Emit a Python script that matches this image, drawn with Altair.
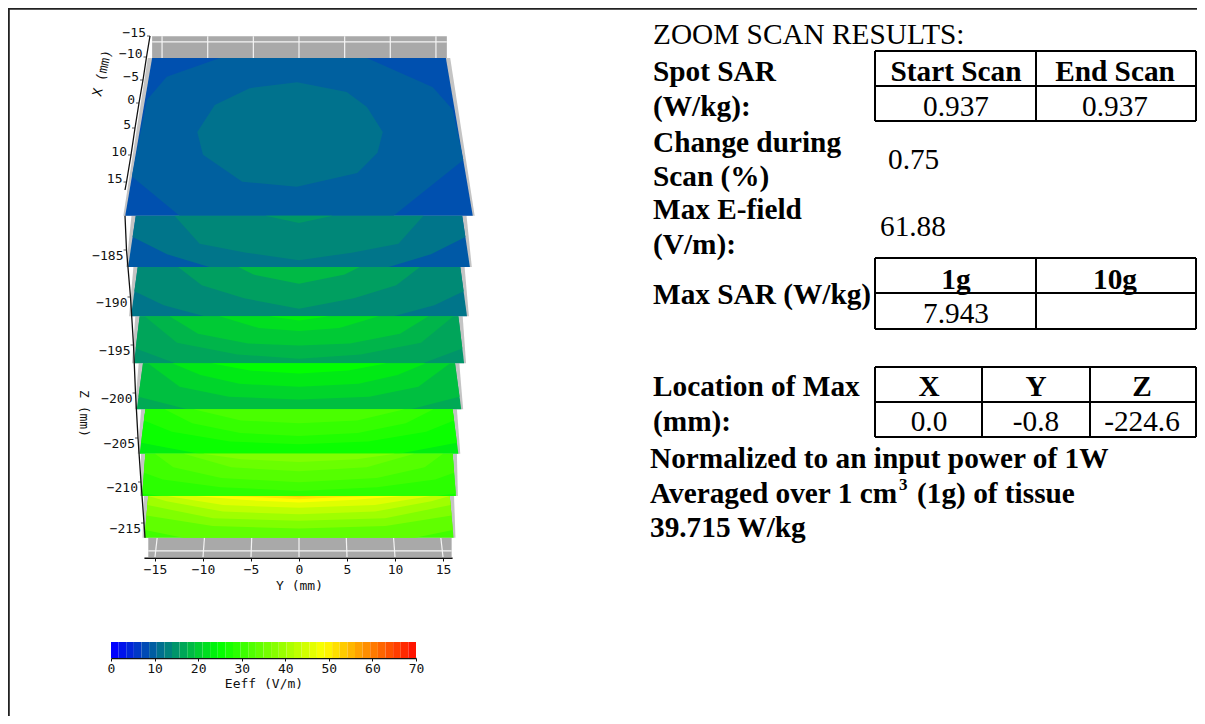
import altair as alt
import pandas as pd

# ---------- values ----------
Y_TICKS = [-15, -10, -5, 0, 5, 10, 15]
X_TICKS = [-15, -10, -5, 0, 5, 10, 15]
Z_TICKS = [-215, -210, -205, -200, -195, -190, -185]
E_TICKS = [0, 10, 20, 30, 40, 50, 60, 70]
E_LEVELS = [0, 1.75, 3.5, 5.25, 7, 8.75, 10.5, 12.25, 14, 15.75, 17.5, 19.25, 21, 22.75, 24.5, 26.25, 28, 29.75,
            31.5, 33.25, 35, 36.75, 38.5, 40.25, 42, 43.75, 45.5, 47.25, 49, 50.75, 52.5, 54.25, 56, 57.75, 59.5,
            61.25, 63, 64.75, 66.5, 68.25]

# eight measured planes: screen Z of back and front edge, half-width (mm on screen) of back and front edge
PLANE_Z = [(-164.8, -181.4), (-181.4, -186.8), (-186.8, -192.0), (-192.0, -196.9),
           (-196.9, -201.8), (-201.8, -206.8), (-206.8, -211.7), (-211.7, -216.8)]
PLANE_HW = [(15.3, 18.1), (17.0, 17.8), (16.8, 17.5), (16.6, 17.2),
            (16.25, 16.9), (16.0, 16.6), (16.0, 16.35), (15.7, 16.1)]
PLANE_BASE = [7.5, 8.4, 11.0, 14.0, 16.0, 22.5, 26.0, 30.0]

# top plane contours (closed outlines in plane coordinates)
TOP_BANDS = [
    (9.0, [(-8.6, -16), (7.4, -16), (14.1, -10.1), (15.8, -5.5), (16, 4.7), (8.7, 16), (-11, 16), (-16, 8),
           (-15.8, -7.5), (-14.1, -12.2)]),
    (10.7, [(-0.2, -11.1), (-5.2, -9.9), (-8.7, -6.5), (-10.2, -1), (-9.4, 3.6), (-5.4, 9.1), (-0.2, 10.1),
            (5.6, 7.3), (7.7, 3.2), (8.4, -1), (7, -6.1), (5, -9.1)]),
]
# lower planes: symmetric contours, half outline from centre outwards
ARCHES = {
    1: [(11.0, [(0, 16), (8.4, 16), (12.5, 8), (16, -2.8), (16, -16)]),
        (12.7, [(0, 11.8), (5, 7), (9.5, 1.5), (12.2, -16)]),
        (14.5, [(0, -11.5), (3.3, -16)])],
    2: [(13.0, [(0, 16), (9, 16), (13, 9), (16, 0), (16, -16)]),
        (15.0, [(0, 11.2), (5.3, 4.5), (9.5, -4), (12, -16)]),
        (17.5, [(0, -5), (4.5, -11), (6, -16)])],
    3: [(15.5, [(0, 16), (12, 16), (16, 6), (16, -16)]),
        (17.0, [(0, 13), (6, 10), (12, 2), (15.5, -16)]),
        (19.0, [(0, 4), (5, 2.5), (10, -4), (13, -16)]),
        (21.0, [(0, -6), (4, -8), (8, -16)]),
        (23.0, [(0, -13), (3, -16)])],
    4: [(18.0, [(0, 16), (11, 16), (16, 7), (16, -16)]),
        (20.0, [(0, 9), (7, 7), (12, 0), (15.5, -16)]),
        (22.0, [(0, 0), (6, -2), (10, -8), (13, -16)]),
        (24.0, [(0, -9), (5, -11), (9, -16)])],
    5: [(25.0, [(0, 16), (10, 16), (16, 8), (16, -16)]),
        (27.0, [(0, 9), (7, 7), (13, 0), (16, -8), (16, -16)]),
        (29.0, [(0, 3), (6, 1), (11, -6), (14, -16)]),
        (31.0, [(0, -6), (6, -8), (11, -16)])],
    6: [(28.0, [(0, 16), (14, 16), (16, 14), (16, -16)]),
        (30.0, [(0, 12), (8, 9), (14, 3), (16, -2), (16, -16)]),
        (32.0, [(0, 5), (8, 2), (13, -6), (15, -16)]),
        (34.0, [(0, -3), (7, -6), (12, -16)]),
        (36.0, [(0, -10), (6, -12), (10, -16)])],
    7: [(33.0, [(0, 16), (12, 16), (16, 10), (16, -16)]),
        (36.0, [(0, 9), (9, 7), (16, -1), (16, -16)]),
        (39.0, [(0, 3), (9, 1), (16, -9), (16, -16)]),
        (42.0, [(0, -2), (8, -4), (14, -12), (16, -16)]),
        (45.0, [(0, -7), (8, -9), (14, -16)]),
        (48.0, [(0, -11), (6, -13), (11, -16)]),
        (50.0, [(0, -13.5), (4, -15), (8, -16)]),
        (52.0, [(0, -15), (2, -16)])],
}

# ---------- layout (page pixels of the reference) ----------
OX, OY = 8, 8
W, H = 1189, 708
MONO = "DejaVu Sans Mono"
SERIF = "Liberation Serif"
TEXT_SIZE = 29.3
INK = "#111111"

def px_scale_x():
    return alt.Scale(domain=[OX, OX + W], range=[0, W], nice=False, zero=False)

def px_scale_y():
    return alt.Scale(domain=[OY, OY + H], range=[0, H], nice=False, zero=False)

def scene_x():
    # 9.6 px per mm, Y = 0 at page x = 299
    return alt.Scale(domain=[(OX - 299) / 9.6, (OX + W - 299) / 9.6], range=[0, W], nice=False, zero=False)

Z_DOMAIN = [-230, -215, -210, -205, -200, -195, -190, -185, -150]
Z_PAGE = [646, 523, 482, 438, 393, 345, 297, 250, -82.5]

def scene_y():
    return alt.Scale(domain=Z_DOMAIN, range=[p - OY for p in Z_PAGE], nice=False, zero=False)

E_SCALE = alt.Scale(domain=[0, 24, 48, 70], range=["#0000ff", "#00ff00", "#ffff00", "#ff0000"],
                    interpolate="rgb", nice=False, zero=False)

def project(u, v, plane):
    f = (v + 16) / 32
    zb, zf = PLANE_Z[plane]
    hb, hf = PLANE_HW[plane]
    return u / 16 * (hb + (hf - hb) * f), zb + (zf - zb) * f

polys = []
def add_poly(plane, e, pts):
    pid = len(polys)
    polys.append(pd.DataFrame([{"poly": pid, "i": i, "E": e, "x": project(u, v, plane)[0], "z": project(u, v, plane)[1]}
                               for i, (u, v) in enumerate(pts)]))

CORNERS = [(-16, -16), (16, -16), (16, 16), (-16, 16)]
for p in range(8):
    add_poly(p, PLANE_BASE[p], CORNERS)
    if p == 0:
        for e, pts in TOP_BANDS:
            add_poly(p, e, pts)
    else:
        for e, half in ARCHES[p]:
            right = list(half)
            left = [(-u, v) for u, v in reversed(half) if u != 0]
            add_poly(p, e, right + left)
plane_df = pd.concat(polys, ignore_index=True)

back = []
for p in range(8):
    zb, zf = PLANE_Z[p]
    hb, hf = PLANE_HW[p]
    for i, (x, z) in enumerate([(-hb - 0.45, zb), (hb + 0.45, zb), (hf + 0.2, zf), (-hf - 0.2, zf)]):
        back.append({"poly": p, "i": i, "x": x, "z": z})
back_df = pd.DataFrame(back)

scene_enc = dict(x=alt.X("x:Q", scale=scene_x(), axis=None), y=alt.Y("z:Q", scale=scene_y(), axis=None))

backing = alt.Chart(back_df).mark_line(fill="#c4c4c4", strokeWidth=0).encode(detail="poly:N", order="i:Q", **scene_enc)
planes = alt.Chart(plane_df).mark_line(strokeWidth=0).encode(
    detail="poly:N", order="i:Q", fill=alt.Fill("E:Q", scale=E_SCALE, legend=None), **scene_enc)

# grey end walls and their white grid
walls = alt.Chart(pd.DataFrame([
    {"x": -15.3, "x2": 15.4, "z": -162.5, "z2": -164.9},
    {"x": -15.7, "x2": 15.9, "z": -216.8, "z2": -219.15},
])).mark_rect(color="#a9a9a9").encode(
    x=alt.X("x:Q", scale=scene_x(), axis=None), x2="x2:Q",
    y=alt.Y("z:Q", scale=scene_y(), axis=None), y2="z2:Q")

grid_rows = []
for t in Y_TICKS:
    grid_rows.append({"x": t * 0.951, "x2": t * 0.951, "z": -162.5, "z2": -164.8})
    grid_rows.append({"x": t * 0.985, "x2": t * 1.0, "z": -216.8, "z2": -219.15})
grid_rows.append({"x": -15.3, "x2": 15.4, "z": -163.1, "z2": -163.1})
grid_rows.append({"x": -15.7, "x2": 15.9, "z": -218.4, "z2": -218.4})
grid = alt.Chart(pd.DataFrame(grid_rows)).mark_rule(color="#f4f4f4", strokeWidth=1.2).encode(
    x=alt.X("x:Q", scale=scene_x(), axis=None), x2="x2:Q",
    y=alt.Y("z:Q", scale=scene_y(), axis=None), y2="z2:Q")

# bottom Y axis (a real axis on the scene scale)
y_axis = alt.Chart(pd.DataFrame({"x": Y_TICKS})).mark_tick(opacity=0).encode(
    x=alt.X("x:Q", scale=scene_x(), axis=alt.Axis(
        values=Y_TICKS, title="Y (mm)", grid=False, domain=False, orient="bottom", offset=558 - OY - H,
        tickColor=INK, tickSize=3, labelFont=MONO, labelFontSize=13, labelColor=INK,
        labelPadding=2, titleFont=MONO, titleFontSize=13, titleFontWeight="normal", titleColor=INK,
        titleX=299 - OX, titleY=21, labelFlush=False, labelOverlap=False)))
y_line = alt.Chart(pd.DataFrame({"x": [-16.1], "x2": [16.0], "z": [-219.3]})).mark_rule(color=INK, strokeWidth=1.5).encode(
    x=alt.X("x:Q", scale=scene_x(), axis=None), x2="x2:Q", y=alt.Y("z:Q", scale=scene_y(), axis=None))

# slanted X axis
X_AX_DOMAIN = [-15, -10, -5, 0, 5, 10, 15, 16.5]
X_AX_PX = [150, 146.5, 143, 139, 135, 131, 126.5, 125]
X_AX_PY = [36, 57, 80, 103, 128, 155, 182, 190]
def xax_enc():
    return dict(
        x=alt.X("t:Q", scale=alt.Scale(domain=X_AX_DOMAIN, range=[p - OX for p in X_AX_PX], nice=False, zero=False), axis=None),
        y=alt.Y("t:Q", scale=alt.Scale(domain=X_AX_DOMAIN, range=[p - OY for p in X_AX_PY], nice=False, zero=False), axis=None))
xax_df = pd.DataFrame({"t": X_TICKS, "label": [str(v).replace("-", "\u2212") for v in X_TICKS]})
xax_line = alt.Chart(pd.DataFrame({"t": X_AX_DOMAIN})).mark_line(color=INK, strokeWidth=1.3).encode(**xax_enc())
xax_tick = alt.Chart(xax_df).mark_tick(color=INK, orient="horizontal", size=3, thickness=1, xOffset=-1.5).encode(**xax_enc())
xax_text = alt.Chart(xax_df).mark_text(font=MONO, fontSize=13, color=INK, align="right", baseline="middle", dx=-4, dy=-3).encode(
    text="label:N", **xax_enc())

# slanted Z axis
Z_AX_DOMAIN = [-216.8, -215, -210, -205, -200, -195, -190, -185, -181.4]
Z_AX_PX = [145, 144, 141, 138, 135.5, 133.5, 130.5, 126.5, 125]
def zax_enc():
    return dict(
        x=alt.X("t:Q", scale=alt.Scale(domain=Z_AX_DOMAIN, range=[p - OX for p in Z_AX_PX], nice=False, zero=False), axis=None),
        y=alt.Y("t:Q", scale=scene_y(), axis=None))
zax_df = pd.DataFrame({"t": Z_TICKS, "label": [str(v).replace("-", "\u2212") for v in Z_TICKS]})
zax_line = alt.Chart(pd.DataFrame({"t": Z_AX_DOMAIN})).mark_line(color=INK, strokeWidth=1.3).encode(**zax_enc())
zax_tick = alt.Chart(zax_df).mark_tick(color=INK, orient="horizontal", size=3, thickness=1, xOffset=-1.5).encode(**zax_enc())
zax_text = alt.Chart(zax_df).mark_text(font=MONO, fontSize=13, color=INK, align="right", baseline="middle", dx=-3, dy=6).encode(
    text="label:N", **zax_enc())

# colour bar
E_NEXT = E_LEVELS[1:] + [70]
bar_scale = lambda: alt.Scale(domain=[0, 70], range=[111 - OX, 416 - OX], nice=False, zero=False)
bar = alt.Chart(pd.DataFrame({"E": E_LEVELS, "E2": E_NEXT})).mark_rect().encode(
    x=alt.X("E:Q", scale=bar_scale(), axis=alt.Axis(
        values=E_TICKS, title="Eeff (V/m)", grid=False, orient="bottom", offset=658 - OY - H,
        domainColor=INK, domainWidth=1.5, tickColor=INK, tickSize=3, labelFont=MONO, labelFontSize=13,
        labelColor=INK, labelPadding=1, labelFlush=False, labelOverlap=False, titleFont=MONO, titleFontSize=13,
        titleFontWeight="normal", titleColor=INK, titleY=19)),
    x2="E2:Q",
    y=alt.value(642 - OY), y2=alt.value(658 - OY),
    fill=alt.Fill("E:Q", scale=E_SCALE, legend=None))

def px_enc():
    return dict(x=alt.X("x:Q", scale=px_scale_x(), axis=None), y=alt.Y("y:Q", scale=px_scale_y(), axis=None))

def text_layer(rows, align="left", weight="normal", size=TEXT_SIZE, font=SERIF, color="#000000", angle=0, dy=0):
    df = pd.DataFrame(rows, columns=["x", "y", "text"])
    return alt.Chart(df).mark_text(font=font, fontSize=size, fontWeight=weight, align=align, baseline="middle",
                                   color=color, angle=angle, dy=dy).encode(text="text:N", **px_enc())

def segs(rows, width=2.2, color="#000000"):
    df = pd.DataFrame(rows, columns=["x", "y", "x2", "y2"])
    return alt.Chart(df).mark_rule(color=color, strokeWidth=width).encode(
        x=alt.X("x:Q", scale=px_scale_x(), axis=None), x2="x2:Q",
        y=alt.Y("y:Q", scale=px_scale_y(), axis=None), y2="y2:Q")

frame = segs([(OX, OY + 0.5, OX + W, OY + 0.5), (OX + 0.5, OY, OX + 0.5, OY + H)], width=2.6, color="#222222")

T1 = (875, 1036, 1196)
T3 = (875, 982, 1090, 1196)
table_lines = [(T1[0], y, T1[2], y) for y in (51, 86, 121, 258, 293, 329)]
table_lines += [(x, 51, x, 121) for x in T1] + [(x, 258, x, 329) for x in T1]
table_lines += [(T3[0], y, T3[3], y) for y in (367, 402, 437)] + [(x, 367, x, 437) for x in T3]
tables = segs(table_lines, width=2)

reg_left = [(653, 33, "ZOOM SCAN RESULTS:"), (888, 158, "0.75"), (880, 225, "61.88")]
reg_center = [(956, 105, "0.937"), (1115, 105, "0.937"), (956, 312, "7.943"),
              (929, 420, "0.0"), (1036, 420, "-0.8"), (1142, 420, "-224.6")]
bold_left = [(653, 70, "Spot SAR"), (653, 105, "(W/kg):"), (653, 141, "Change during"), (653, 175, "Scan (%)"),
             (653, 208, "Max E-field"), (653, 243, "(V/m):"), (653, 293, "Max SAR (W/kg)"),
             (653, 385, "Location of Max"), (653, 420, "(mm):"),
             (650, 457, "Normalized to an input power of 1W"), (650, 492, "Averaged over 1 cm"),
             (917, 492, "(1g) of tissue"), (650, 526, "39.715 W/kg")]
bold_center = [(956, 70, "Start Scan"), (1115, 70, "End Scan"), (956, 278, "1g"), (1115, 278, "10g"),
               (929, 385, "X"), (1036, 385, "Y"), (1142, 385, "Z")]

chart = alt.layer(
    frame, walls, grid, backing, planes, y_axis, y_line,
    xax_line, xax_tick, xax_text, zax_line, zax_tick, zax_text, bar,
    text_layer([(97, 96, "X (mm)")], size=13, font=MONO, color=INK, angle=283),
    text_layer([(84, 390, "Z (mm)")], size=13, font=MONO, color=INK, angle=90),
    tables,
    text_layer(reg_left, dy=1.5), text_layer(reg_center, align="center", dy=1.5),
    text_layer(bold_left, weight="bold", dy=1.5), text_layer(bold_center, align="center", weight="bold", dy=1.5),
    text_layer([(899, 483, "3")], weight="bold", size=17, dy=1.5),
).resolve_scale(x="independent", y="independent").properties(
    width=W, height=H, padding=0, autosize=alt.AutoSizeParams(type="none")
).configure_view(stroke=None)

chart.save("out.html", embed_options={"renderer": "svg", "actions": False})
